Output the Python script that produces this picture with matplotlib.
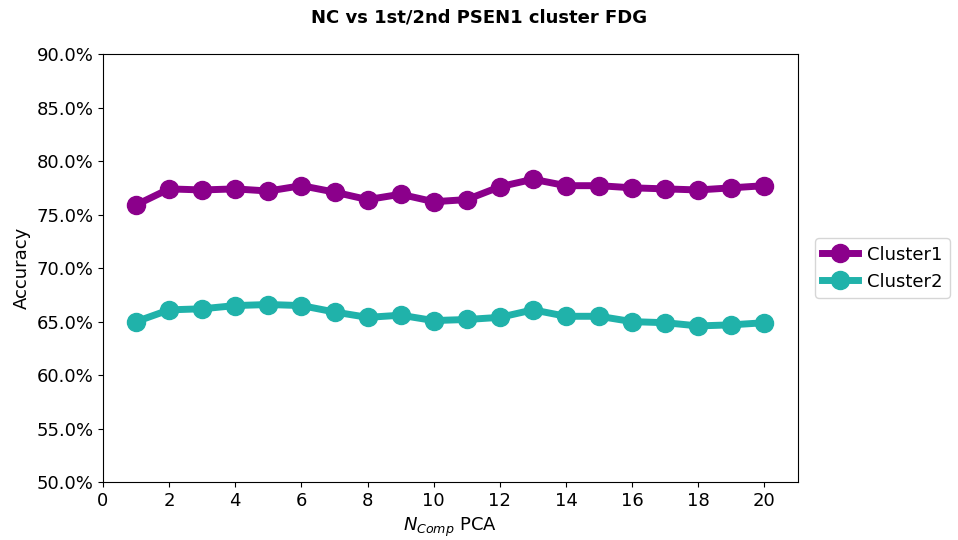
import numpy as np
import matplotlib.pyplot as plt
from matplotlib.ticker import FuncFormatter

n_comp = np.arange(1, 21)
cluster1 = [75.9, 77.4, 77.3, 77.4, 77.2, 77.7, 77.1, 76.4, 76.9, 76.2,
            76.4, 77.6, 78.3, 77.7, 77.7, 77.5, 77.4, 77.3, 77.5, 77.7]
cluster2 = [65.0, 66.1, 66.2, 66.5, 66.6, 66.5, 65.9, 65.4, 65.6, 65.1,
            65.2, 65.4, 66.1, 65.5, 65.5, 65.0, 64.9, 64.6, 64.7, 64.9]

fig = plt.figure(figsize=(9.58, 5.4), dpi=100)
ax = fig.add_axes([0.1075, 0.107, 0.725, 0.793])

ax.plot(n_comp, cluster1, '-o', color='#8B008B', lw=5, ms=13, label='Cluster1')
ax.plot(n_comp, cluster2, '-o', color='#20B2AA', lw=5, ms=13, label='Cluster2')

ax.set_xlim(0, 21)
ax.set_ylim(50, 90)
ax.set_xticks(np.arange(0, 21, 2))
ax.set_yticks(np.arange(50, 90.1, 5))
ax.yaxis.set_major_formatter(FuncFormatter(lambda v, p: '%.1f%%' % v))
ax.tick_params(labelsize=13)
ax.set_xlabel('$N_{Comp}$ PCA', fontsize=13)
ax.set_ylabel('Accuracy', fontsize=13)
fig.suptitle('NC vs 1st/2nd PSEN1 cluster FDG', fontsize=13, fontweight='bold', y=0.985)
ax.legend(loc='center left', bbox_to_anchor=(1.025, 0.5), fontsize=13,
          handlelength=2.0, handletextpad=0.5, borderaxespad=0)

fig.savefig('out.png', dpi=100)
